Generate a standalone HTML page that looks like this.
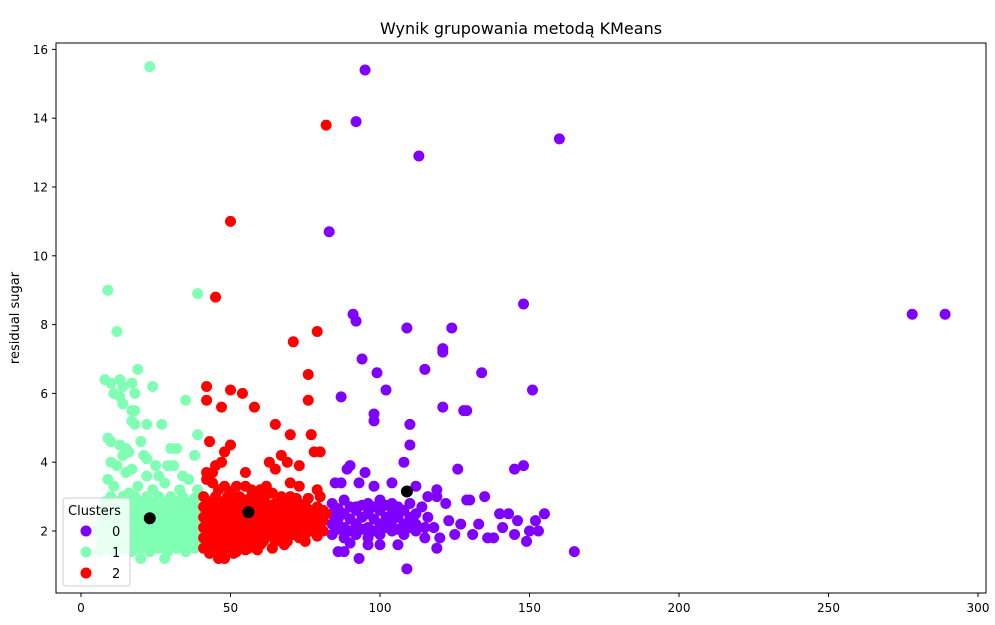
<!DOCTYPE html>
<html><head><meta charset="utf-8"><style>
body{margin:0;background:#fff;font-family:"DejaVu Sans","Liberation Sans",sans-serif}
svg text{font-family:"DejaVu Sans","Liberation Sans",sans-serif}
</style></head><body>
<svg id="chart" width="995" height="621" viewBox="0 0 995 621" xmlns="http://www.w3.org/2000/svg">
<rect width="995" height="621" fill="#fff"/>
<text x="521" y="34" font-size="16" text-anchor="middle">Wynik grupowania metodą KMeans</text>
<text transform="translate(19,318) rotate(-90)" font-size="13" text-anchor="middle">residual sugar</text>
<g id="points"></g>
<rect x="56" y="43" width="930" height="550" fill="none" stroke="#000" stroke-width="1"/>
<g id="ticks"></g>
<g>
<rect x="63" y="498" width="67" height="88" rx="3" fill="#fff" fill-opacity="0.8" stroke="#ccc"/>
<text x="68" y="515" font-size="13">Clusters</text>
<circle cx="86" cy="531" r="5.5" fill="#8000ff"/><text x="112" y="536" font-size="13">0</text>
<circle cx="86" cy="552" r="5.5" fill="#80ffb4"/><text x="112" y="557" font-size="13">1</text>
<circle cx="86" cy="573" r="5.5" fill="#ff0000"/><text x="112" y="578" font-size="13">2</text>
</g>
</svg>
<script>
const xTicks=[0,50,100,150,200,250,300];
const yTicks=[2,4,6,8,10,12,14,16];
const cluster1=[[23,15.5],[9,9.0],[39,8.9],[12,7.8],[19,6.7],[8,6.4],[10,6.3],[13,6.4],[17,6.3],[14,6.2],[24,6.2],[11,6.0],[13,5.9],[18,6.0],[14,5.7],[35,5.8],[17,5.5],[18,5.5],[17,5.2],[18,5.1],[22,5.1],[27,5.1],[9,4.7],[10,4.6],[13,4.5],[15,4.4],[16,4.3],[20,4.6],[14,4.2],[21,4.2],[22,4.1],[30,4.4],[32,4.4],[39,4.8],[38,4.2],[10,4.0],[12,3.9],[17,3.8],[15,3.7],[25,3.9],[29,3.9],[31,3.9],[22,3.6],[26,3.6],[28,3.4],[34,3.6],[36,3.5],[9,3.5],[11,3.3],[19,3.3],[33,3.2],[39,3.2],[16,3.1],[24,3.2],[6,1.4],[5,2.0],[7,2.6],[28,1.2],[20,1.2],
[8,1.5],[11,1.4],[14,1.5],[17,1.4],[20,1.5],[23,1.4],[26,1.5],[29,1.4],[32,1.5],[35,1.4],[38,1.5],
[8,1.8],[11,1.8],[14,1.8],[17,1.8],[20,1.8],[23,1.8],[26,1.8],[29,1.8],[32,1.8],[35,1.8],[38,1.8],
[9,2.1],[12,2.1],[15,2.1],[18,2.1],[21,2.1],[24,2.1],[27,2.1],[30,2.1],[33,2.1],[36,2.1],[39,2.1],
[8,2.4],[11,2.4],[14,2.4],[17,2.4],[20,2.4],[23,2.4],[26,2.4],[29,2.4],[32,2.4],[35,2.4],[38,2.4],
[9,2.7],[12,2.7],[15,2.7],[18,2.7],[21,2.7],[24,2.7],[27,2.7],[30,2.7],[33,2.7],[36,2.7],[39,2.7],
[10,3.0],[14,3.0],[18,3.0],[22,3.0],[26,3.0],[30,3.0],[34,3.0],[38,2.95],
[7,1.65],[10,1.6],[12.5,1.65],[15.5,1.6],[18.5,1.65],[21.5,1.6],[24.5,1.65],[27.5,1.6],[30.5,1.65],[33.5,1.6],[36.5,1.65],[39,1.6],
[7,1.95],[10,1.95],[13,1.95],[16,1.95],[19,1.95],[22,1.95],[25,1.95],[28,1.95],[31,1.95],[34,1.95],[37,1.95],[39.5,1.9],
[7,2.25],[10,2.25],[13,2.25],[16,2.25],[19,2.25],[22,2.25],[25,2.25],[28,2.25],[31,2.25],[34,2.25],[37,2.25],[39.5,2.3],
[7,2.55],[10,2.55],[13,2.55],[16,2.55],[19,2.55],[22,2.55],[25,2.55],[28,2.55],[31,2.55],[34,2.55],[37,2.55],[39.5,2.55],
[8,2.85],[11,2.85],[14,2.85],[17,2.85],[20,2.85],[23,2.85],[26,2.85],[29,2.85],[32,2.85],[35,2.85],[38,2.8]];
const cluster2=[[82,13.8],[50,11.0],[45,8.8],[71,7.5],[79,7.8],[76,6.55],[42,6.2],[50,6.1],[54,6.0],[42,5.8],[47,5.6],[58,5.6],[76,5.8],[65,5.1],[70,4.8],[77,4.8],[43,4.6],[50,4.5],[48,4.3],[63,4.0],[67,4.2],[69,4.0],[73,3.9],[78,4.3],[80,4.3],[47,4.0],[45,3.9],[42,3.7],[44,3.7],[55,3.7],[65,3.8],[42,3.5],[44,3.4],[70,3.4],[73,3.3],[79,3.2],[80,3.0],[60,3.2],[62,3.3],[57,3.2],[48,3.3],[52,3.3],[55,3.3],[46,1.2],[48,1.2],[52,1.4],[56,1.5],[60,1.6],[64,1.5],[75,1.7],[68,1.6],
[41,1.5],[45,1.5],[49,1.5],[53,1.6],[57,1.6],[61,1.7],[65,1.7],[69,1.7],[73,1.8],
[41,1.8],[45,1.8],[49,1.8],[53,1.9],[57,1.9],[61,2.0],[65,2.0],[69,2.0],[73,2.0],[77,2.0],[81,2.0],
[41,2.1],[45,2.1],[49,2.1],[53,2.2],[57,2.2],[61,2.3],[65,2.3],[69,2.3],[73,2.3],[77,2.3],[81,2.3],
[41,2.4],[45,2.4],[49,2.4],[53,2.5],[57,2.5],[61,2.6],[65,2.6],[69,2.6],[73,2.6],[77,2.6],[81,2.6],
[41,2.7],[45,2.7],[49,2.7],[53,2.8],[57,2.8],[61,2.9],[65,2.8],[69,2.9],[73,2.8],
[41,3.0],[45,3.0],[49,3.0],[53,3.0],[57,3.0],[64,3.1],[70,3.0],
[43,1.35],[47,1.4],[51,1.35],[55,1.45],[59,1.45],[43,1.65],[47,1.65],[51,1.65],[55,1.75],[59,1.8],[63,1.85],[67,1.85],[71,1.9],[75,1.9],[79,1.85],
[43,1.95],[47,1.95],[51,1.95],[55,2.05],[59,2.1],[63,2.15],[67,2.15],[71,2.15],[75,2.15],[79,2.15],
[43,2.25],[47,2.25],[51,2.25],[55,2.35],[59,2.4],[63,2.45],[67,2.45],[71,2.45],[75,2.45],[79,2.45],[82,2.5],
[43,2.55],[47,2.55],[51,2.55],[55,2.65],[59,2.7],[63,2.75],[67,2.7],[71,2.75],[75,2.75],[79,2.7],
[43,2.85],[47,2.85],[51,2.85],[55,2.9],[59,2.95],[67,3.0],[72,2.95],[46,3.2],[50,3.15],[62,3.05],[76,2.95]];
const cluster0=[[95,15.4],[92,13.9],[160,13.4],[113,12.9],[83,10.7],[148,8.6],[278,8.3],[289,8.3],[91,8.3],[92,8.1],[109,7.9],[124,7.9],[121,7.3],[121,7.2],[94,7.0],[115,6.7],[134,6.6],[99,6.6],[102,6.1],[151,6.1],[87,5.9],[121,5.6],[128,5.5],[129,5.5],[98,5.4],[98,5.2],[110,5.1],[110,4.5],[108,4.0],[126,3.8],[145,3.8],[148,3.9],[90,3.9],[89,3.8],[95,3.7],[85,3.4],[87,3.4],[93,3.4],[104,3.4],[98,3.3],[112,3.3],[119,3.2],[119,3.0],[130,2.9],[135,3.0],[109,0.9],[165,1.4],[93,1.2],[88,1.4],[86,1.4],[100,1.6],[106,1.6],[119,1.5],[138,1.8],[145,1.9],[150,2.0],[153,2.0],[155,2.5],[152,2.3],[149,1.7],[141,2.1],[143,2.5],[136,1.8],[131,1.9],[127,2.2],[123,2.3],[120,1.8],[125,1.9],[133,2.2],[140,2.5],[146,2.3],[129,2.9],[116,2.4],[118,2.1],[122,2.8],[112,2.5],
[84,1.9],[88,1.8],[92,1.9],[96,1.8],[100,1.9],[104,2.0],[108,1.9],[112,2.0],
[84,2.2],[88,2.1],[92,2.2],[96,2.1],[100,2.2],[104,2.3],[108,2.2],[112,2.2],
[84,2.5],[88,2.5],[92,2.6],[96,2.5],[100,2.6],[104,2.5],[108,2.6],[114,2.7],
[84,2.8],[88,2.9],[92,2.7],[96,2.8],[100,2.9],[104,2.8],[110,2.8],[116,3.0],
[86,2.05],[90,2.0],[94,2.05],[98,2.0],[102,2.1],[106,2.05],[110,2.1],[86,2.35],[90,2.35],[94,2.4],[98,2.35],[102,2.4],[106,2.4],[110,2.4],[86,2.65],[90,2.7],[94,2.75],[98,2.7],[102,2.75],[106,2.7],[90,1.65],[96,1.6],[115,1.8],[115,2.1]];
const centroids=[[23,2.37],[56,2.55],[109,3.15]];
const colors=['#8000ff','#80ffb4','#ff0000'];
const sx=v=>81+v*2.99;
const sy=v=>531-(v-2)*34.4;
const NS='http://www.w3.org/2000/svg';
const gp=document.getElementById('points');
[[cluster0,0],[cluster1,1],[cluster2,2]].forEach(([arr,ci])=>{
 arr.forEach(p=>{
  const c=document.createElementNS(NS,'circle');
  c.setAttribute('cx',sx(p[0]));c.setAttribute('cy',sy(p[1]));c.setAttribute('r',5.5);c.setAttribute('fill',colors[ci]);
  
  
  gp.appendChild(c);
 });
});
centroids.forEach(p=>{
 const c=document.createElementNS(NS,'circle');
 c.setAttribute('cx',sx(p[0]));c.setAttribute('cy',sy(p[1]));c.setAttribute('r',6);c.setAttribute('fill','#000');
 
 
 gp.appendChild(c);
});
const gt=document.getElementById('ticks');
xTicks.forEach(t=>{
 const l=document.createElementNS(NS,'line');
 l.setAttribute('x1',sx(t));l.setAttribute('x2',sx(t));l.setAttribute('y1',593);l.setAttribute('y2',597);l.setAttribute('stroke','#000');
 
 
 gt.appendChild(l);
 const tx=document.createElementNS(NS,'text');
 tx.setAttribute('x',sx(t));tx.setAttribute('y',612);tx.setAttribute('font-size','12');tx.setAttribute('text-anchor','middle');tx.textContent=t;
 
 
 gt.appendChild(tx);
});
yTicks.forEach(t=>{
 const l=document.createElementNS(NS,'line');
 l.setAttribute('x1',52);l.setAttribute('x2',56);l.setAttribute('y1',sy(t));l.setAttribute('y2',sy(t));l.setAttribute('stroke','#000');
 
 
 gt.appendChild(l);
 const tx=document.createElementNS(NS,'text');
 tx.setAttribute('x',48);tx.setAttribute('y',sy(t)+4.5);tx.setAttribute('font-size','12');tx.setAttribute('text-anchor','end');tx.textContent=t;
 
 
 gt.appendChild(tx);
});
</script>
</body></html>
